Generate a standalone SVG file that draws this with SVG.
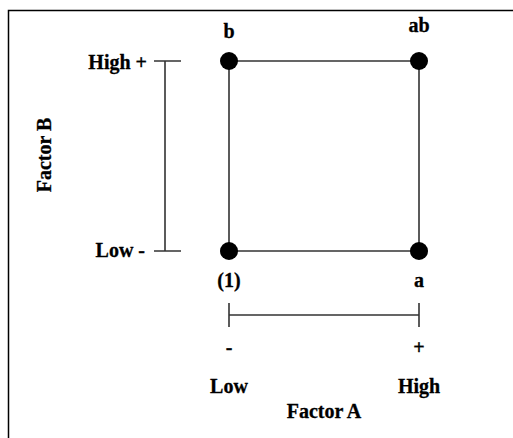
<svg xmlns="http://www.w3.org/2000/svg" width="513" height="438" viewBox="0 0 513 438">
<style>
.t{font-family:"Liberation Serif","Times New Roman",serif;font-weight:bold;font-size:20px;fill:#000;stroke:#000;stroke-width:0.3}
.m{text-anchor:middle}
.e{text-anchor:end}
.ln{stroke:#333;stroke-width:1.6;fill:none}
.pt{fill:#000}
</style>
<rect width="513" height="438" fill="#fff"/>
<path d="M8.5,438 V10.5 H513" fill="none" stroke="#000" stroke-width="1.5"/>
<g id="connectors">
<path class="ln" d="M229,61 H419 V251 H229 Z"/>
</g>
<g id="axisB">
<path class="ln" d="M165,61 V251 M154,61 H181 M154,251 H181"/>
<text class="t e" x="147" y="69">High +</text>
<text class="t e" x="145" y="257">Low -</text>
<text class="t m" transform="translate(51,155) rotate(-90)">Factor B</text>
</g>
<g id="axisA">
<path class="ln" d="M229,315 H419 M229,303 V327 M419,303 V327"/>
<text class="t m" x="229" y="354">-</text>
<text class="t m" x="419" y="354">+</text>
<text class="t m" x="229" y="393">Low</text>
<text class="t m" x="419" y="393">High</text>
<text class="t m" x="324" y="418">Factor A</text>
</g>
<g id="node-b"><circle class="pt" cx="229" cy="61" r="9"/><text class="t m" x="229" y="38">b</text></g>
<g id="node-ab"><circle class="pt" cx="419" cy="61" r="9"/><text class="t m" x="419" y="32">ab</text></g>
<g id="node-1"><circle class="pt" cx="229" cy="251" r="9"/><text class="t m" x="229" y="287">(1)</text></g>
<g id="node-a"><circle class="pt" cx="419" cy="251" r="9"/><text class="t m" x="419" y="287">a</text></g>
</svg>
